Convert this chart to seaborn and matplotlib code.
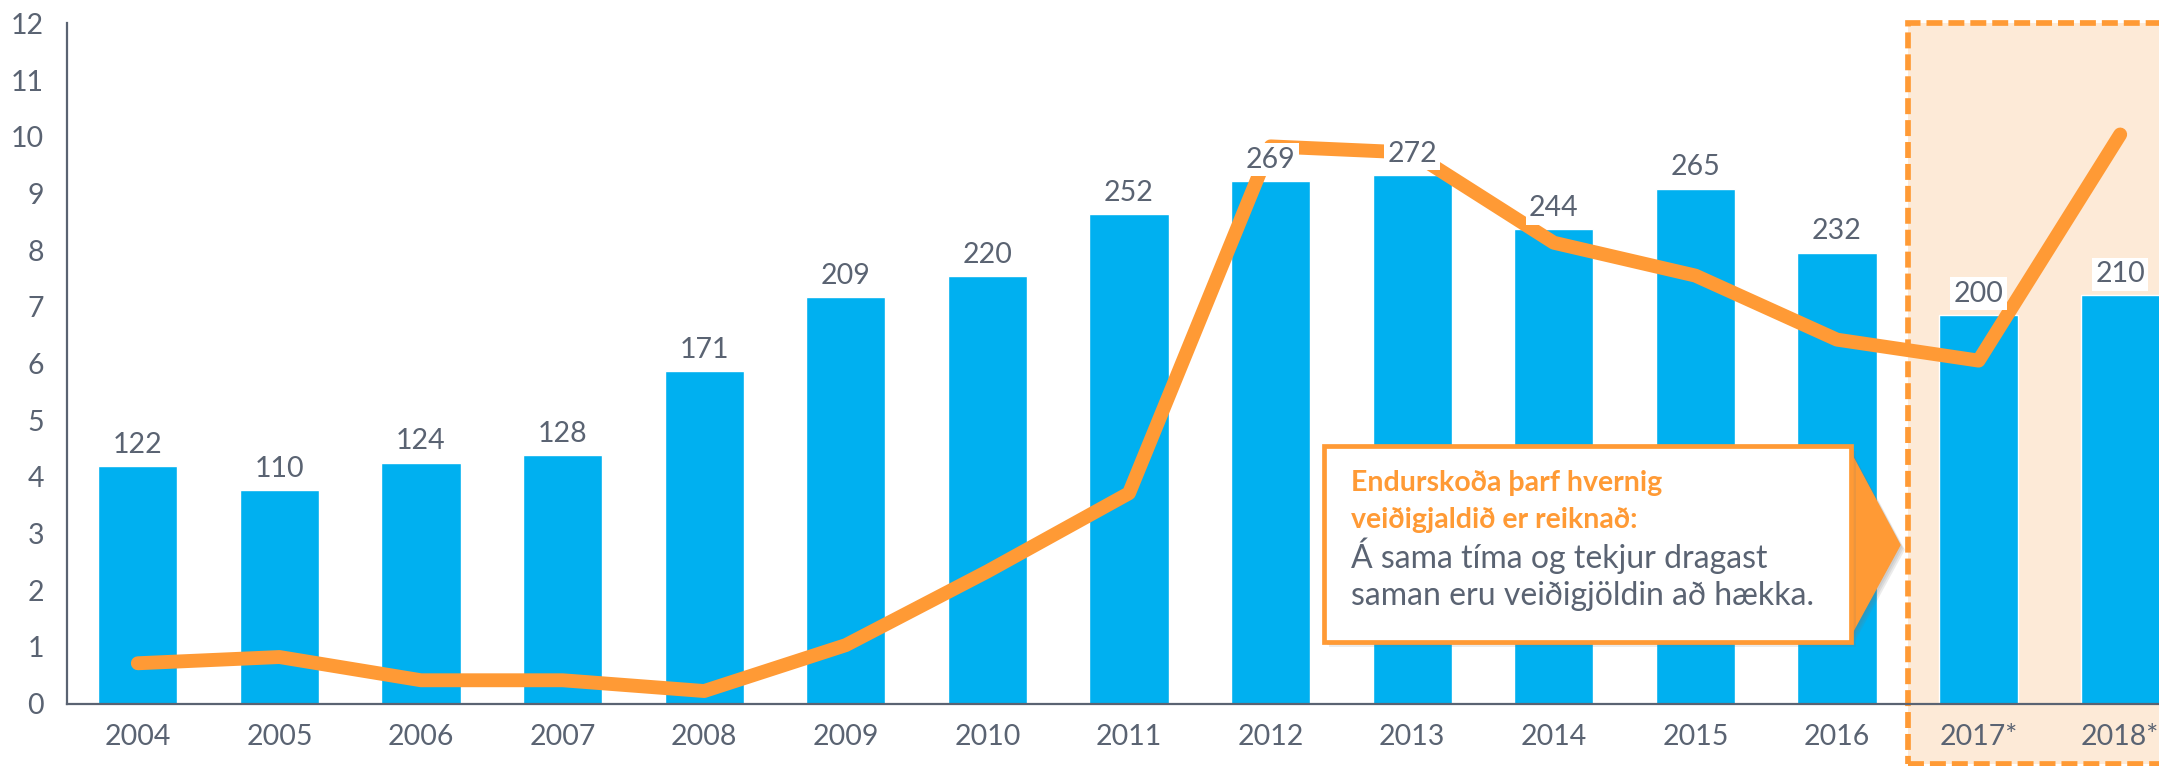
import numpy as np
import pandas as pd
import matplotlib
matplotlib.use("Agg")
import matplotlib.pyplot as plt
import matplotlib.patheffects as pe
from matplotlib.patches import Rectangle, Polygon
import seaborn as sns

# Fishing industry revenue (bars, hidden right scale) and fishing fees (line, left scale)
years = ["2004", "2005", "2006", "2007", "2008", "2009", "2010", "2011",
         "2012", "2013", "2014", "2015", "2016", "2017*", "2018*"]
revenue = [122, 110, 124, 128, 171, 209, 220, 252, 269, 272, 244, 265, 232, 200, 210]
fees = [0.71, 0.82, 0.41, 0.41, 0.22, 1.03, 2.33, 3.71, 9.83, 9.72, 8.13, 7.55, 6.42, 6.05, 10.04]
fee_ticks = list(range(0, 13))

callout_title = ["Endurskoða þarf hvernig", "veiðigjaldið er reiknað:"]
callout_body = ["Á sama tíma og tekjur dragast", "saman eru veiðigjöldin að hækka."]

BLUE = "#00B0F0"
ORANGE = "#FF9A35"
PEACH = "#FDEAD7"
GREY = "#5A6372"

sns.set_style("white")
plt.rcParams["font.family"] = ["Lato", "DejaVu Sans"]

W, H = 2159, 766
fig = plt.figure(figsize=(W / 100, H / 100), dpi=100)

def fx(px):
    return px / W

def fy(py):
    return 1 - py / H

# axes extends a little past the right edge of the canvas
left_px, right_px, top_px, bottom_px = 67, 2191, 23.4, 703.5
ax = fig.add_axes([fx(left_px), fy(bottom_px), fx(right_px - left_px), (bottom_px - top_px) / H])

df = pd.DataFrame({"year": years, "revenue": revenue, "fee": fees})

sns.barplot(data=df, x="year", y="revenue", ax=ax, color=BLUE, saturation=1,
            width=0.56, zorder=2)
ax.set_ylim(0, 350)
ax.set_xlim(-0.5, len(years) - 0.5)
ax.set_yticks([])
ax.set_xlabel("")
ax.set_ylabel("")
ax.tick_params(axis="x", length=0, labelsize=20.5, labelcolor=GREY, pad=15)
for s in ["top", "right"]:
    ax.spines[s].set_visible(False)
for s in ["left", "bottom"]:
    ax.spines[s].set_color(GREY)
    ax.spines[s].set_linewidth(1.6)

# forecast years highlighted
ax.add_patch(Rectangle((12.5, -31.2), 3.0, 350 + 31.2, transform=ax.transData,
                       facecolor=PEACH, edgecolor=ORANGE, linewidth=4.1,
                       linestyle=(0, (2.8, 1.05)), clip_on=False, zorder=0.5))

ax2 = ax.twinx()
sns.lineplot(x=np.arange(len(years)), y=df["fee"], ax=ax2, color=ORANGE,
             linewidth=10, zorder=3, solid_capstyle="round", solid_joinstyle="round")
ax2.set_ylim(0, 12)
ax2.set_yticks(fee_ticks)
ax2.yaxis.tick_left()
ax2.tick_params(axis="y", length=0, labelsize=20.5, labelcolor=GREY, pad=16.5)
ax2.set_ylabel("")
for s in ax2.spines.values():
    s.set_visible(False)

# value labels above the bars, on a white plate over the line
for i, v in enumerate(revenue):
    ax2.annotate(f"{v}", xy=(i, v), xycoords=ax.transData, xytext=(0, 9.5),
                 textcoords="offset points", ha="center", va="baseline",
                 fontsize=20.5, color=GREY, zorder=5,
                 bbox=dict(boxstyle="square,pad=0.12", fc="white", ec="none"))

# callout
shadow = [pe.SimplePatchShadow(offset=(o, -o), shadow_rgbFace="#777777", alpha=0.14)
          for o in (1.5, 2.5, 3.5)] + [pe.Normal()]
box_l, box_r, box_t, box_b, tip_x, tip_y = 1324, 1851, 446, 642, 1900, 545
tri = Polygon([(fx(box_r - 4), fy(box_t)), (fx(tip_x), fy(tip_y)), (fx(box_r - 4), fy(box_b))],
              closed=True, transform=fig.transFigure, facecolor=ORANGE, edgecolor=ORANGE,
              linewidth=1, zorder=10, path_effects=shadow)
fig.add_artist(tri)
box = Rectangle((fx(box_l), fy(box_b)), fx(box_r - box_l), (box_b - box_t) / H,
                transform=fig.transFigure, facecolor="white", edgecolor=ORANGE,
                linewidth=3.4, zorder=11, path_effects=shadow)
fig.add_artist(box)

text_x = 1351
baselines = [491, 528, 568, 605]
for line, yb in zip(callout_title, baselines[:2]):
    fig.text(fx(text_x), fy(yb), line, fontsize=20.5, fontweight="bold", color=ORANGE,
             ha="left", va="baseline", zorder=12)
for line, yb in zip(callout_body, baselines[2:]):
    fig.text(fx(text_x), fy(yb), line, fontsize=23, color=GREY,
             ha="left", va="baseline", zorder=12)

fig.savefig("out.png", dpi=100)
